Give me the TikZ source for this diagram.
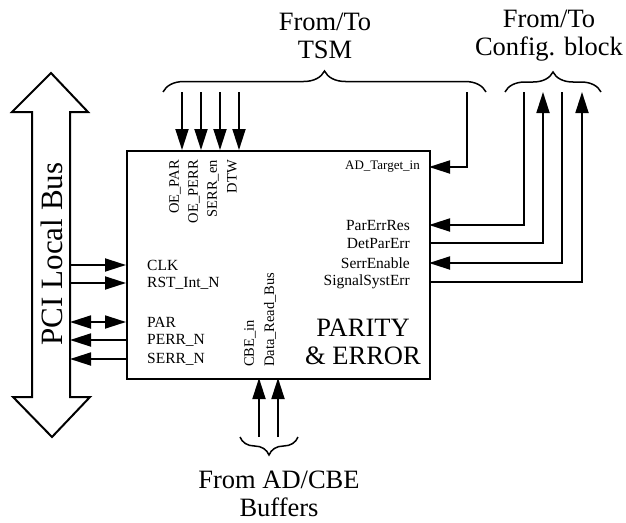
\documentclass[tikz,border=0pt]{standalone}
\usepackage{fontspec}
\setmainfont{Liberation Serif}
\usetikzlibrary{arrows.meta,decorations.pathreplacing}
\begin{document}
\begin{tikzpicture}[x=1pt,y=-1pt,
  wire/.style={line width=1.8pt},
  tipend/.style={-{Triangle[length=21pt,width=13pt]}},
  tipboth/.style={{Triangle[length=21pt,width=13pt]}-{Triangle[length=21pt,width=13pt]}},
  tipstart/.style={{Triangle[length=21pt,width=13pt]}-},
  sig/.style={font=\fontsize{15.5}{18}\selectfont, inner sep=0pt},
  vsig/.style={font=\fontsize{14.5}{17}\selectfont, inner sep=0pt, rotate=90},
  big/.style={font=\fontsize{26.5}{28}\selectfont, align=center, inner sep=0pt},
  bracestyle/.style={decorate, line width=1.5pt},
]
\useasboundingbox (0,0) rectangle (626,522);

% PCI bus double arrow
\draw[line width=2pt, line join=miter] (51,73) -- (88,112) -- (70,112) -- (70,397) -- (90,397) -- (52,437) -- (13,397) -- (32,397) -- (32,112) -- (12,112) -- cycle;
\node[rotate=90, font=\fontsize{31}{33}\selectfont, inner sep=0pt] (pci) at (52,254) {PCI Local Bus};

% main block
\node[draw, line width=2.2pt, minimum width=303pt, minimum height=228pt, anchor=north west, inner sep=0pt] (pe) at (126,150) {};
\node[big] (title) at (363,342) {PARITY\\\& ERROR};

% left signals
\foreach \n/\y in {clk/265, rst/283, par/322, perr/340, serr/359}{
  \coordinate (\n A) at (70,\y);
  \coordinate (\n B) at (126,\y);
}
\draw[wire, tipend] (clkA) -- (clkB);
\draw[wire, tipend] (rstA) -- (rstB);
\draw[wire, tipboth] (parA) -- (parB);
\draw[wire, tipstart] (perrA) -- (perrB);
\draw[wire, tipstart] (serrA) -- (serrB);
\node[sig, anchor=west] (lclk) at (147,265) {CLK};
\node[sig, anchor=west] (lrst) at (147,283) {RST\_Int\_N};
\node[sig, anchor=west] (lpar) at (147,322) {PAR};
\node[sig, anchor=west] (lperr) at (147,340) {PERR\_N};
\node[sig, anchor=west] (lserr) at (147,359) {SERR\_N};

% top TSM signals
\foreach \n/\x in {oepar/182, oeperr/201, serren/220, dtw/239}{
  \coordinate (\n A) at (\x,92);
  \coordinate (\n B) at (\x,150);
  \draw[wire, tipend] (\n A) -- (\n B);
}
\node[vsig, anchor=east] (loepar) at (175,160) {OE\_PAR};
\node[vsig, anchor=east] (loeperr) at (194,160) {OE\_PERR};
\node[vsig, anchor=east] (lserren) at (213,160) {SERR\_en};
\node[vsig, anchor=east] (ldtw) at (232,160) {DTW};

% AD_Target_in
\coordinate (adA) at (467,92);
\coordinate (adC) at (467,167);
\coordinate (adB) at (429,167);
\draw[wire, tipend] (adA) -- (adC) -- (adB);
\node[font=\fontsize{13}{15}\selectfont, inner sep=0pt, anchor=east] (lad) at (420,167) {AD\_Target\_in};

% TSM brace
\draw[bracestyle, decoration={brace, amplitude=21pt}] (163,92) -- (486,92);
\node[big] (tsm) at (325,36) {From/To\\TSM};

% Config signals
\foreach \n/\x/\y in {per/524/225, dpe/543/243, se/562/263, sse/582/282}{
  \coordinate (\n A) at (\x,92);
  \coordinate (\n C) at (\x,\y);
  \coordinate (\n B) at (429,\y);
}
\draw[wire, tipend] (perA) -- (perC) -- (perB);
\draw[wire, tipstart] (dpeA) -- (dpeC) -- (dpeB);
\draw[wire, tipend] (seA) -- (seC) -- (seB);
\draw[wire, tipstart] (sseA) -- (sseC) -- (sseB);
\node[sig, anchor=east] (lper) at (410,225) {ParErrRes};
\node[sig, anchor=east] (ldpe) at (410,243) {DetParErr};
\node[sig, anchor=east] (lse) at (410,263) {SerrEnable};
\node[sig, anchor=east] (lsse) at (410,282) {SignalSystErr};

% Config brace
\draw[bracestyle, decoration={brace, amplitude=20pt}] (505,92) -- (601,92);
\node[big] (cfg) at (549,36) {From/To\\Config. block};

% bottom signals
\foreach \n/\x in {cbe/259, drb/278}{
  \coordinate (\n A) at (\x,437);
  \coordinate (\n B) at (\x,378);
  \draw[wire, tipend] (\n A) -- (\n B);
}
\node[vsig, anchor=west] (lcbe) at (250,367) {CBE\_in};
\node[vsig, anchor=west] (ldrb) at (270,367) {Data\_Read\_Bus};
\draw[bracestyle, decoration={brace, amplitude=18pt}] (298,437) -- (240,437);
\node[big] (buf) at (279,494) {From AD/CBE\\Buffers};
\end{tikzpicture}
\end{document}
